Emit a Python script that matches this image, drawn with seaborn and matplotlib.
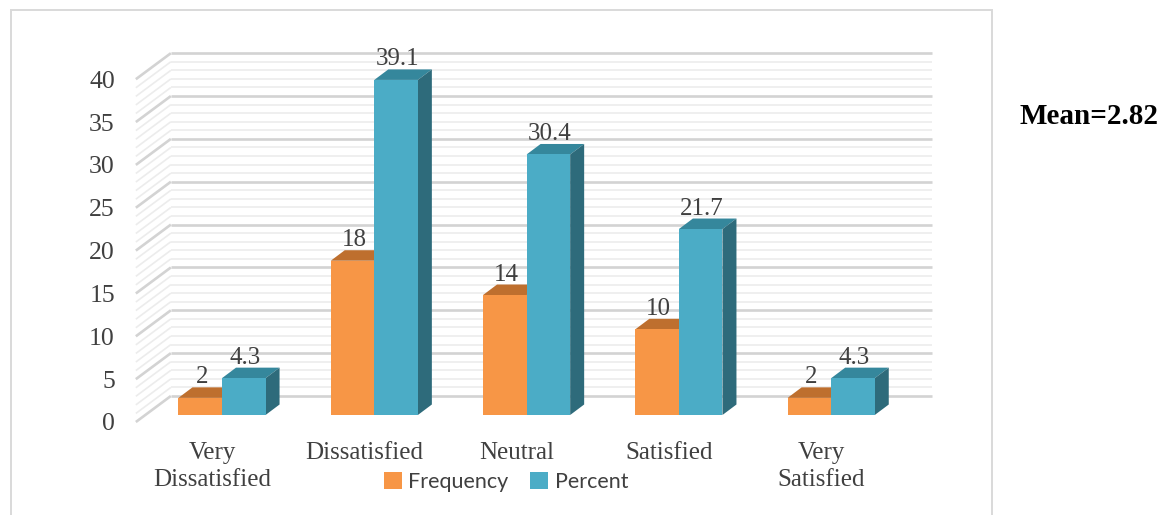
import numpy as np
import pandas as pd
import matplotlib
matplotlib.use("Agg")
import matplotlib.pyplot as plt
import seaborn as sns
from matplotlib.transforms import ScaledTranslation
from matplotlib.patches import Polygon, Rectangle, Patch

# ---------------- data ----------------
categories = ["Very\nDissatisfied", "Dissatisfied", "Neutral", "Satisfied", "Very\nSatisfied"]
frequency = [2, 18, 14, 10, 2]
percent = [4.3, 39.1, 30.4, 21.7, 4.3]
series_names = ["Frequency", "Percent"]
y_ticks = [0, 5, 10, 15, 20, 25, 30, 35, 40]
mean_text = "Mean=2.82"

# ---------------- style ----------------
sns.set_style("white")
plt.rcParams["font.family"] = ["Liberation Serif", "DejaVu Serif"]

ORANGE = "#F79646"
TEAL = "#4BACC6"
ORANGE_TOP = "#BE6F2E"
ORANGE_SIDE = "#A85F25"
TEAL_TOP = "#35879C"
TEAL_SIDE = "#2E6B7B"
TXT = "#404040"

W, H, DPI = 1163, 515, 100
fig = plt.figure(figsize=(W / DPI, H / DPI), dpi=DPI)
fig.patch.set_facecolor("white")

# axes mapped so that the bar front plane is the data plane
x0_px, spacing = 222.0, 152.3
left_px = x0_px - 0.5 * spacing
right_px = x0_px + 4.5 * spacing
ppu_y = 8.57
ymin, ymax = -3, 45
base_px = 415.0
bottom_img = base_px - ymin * ppu_y
top_img = base_px - ymax * ppu_y
ax = fig.add_axes([left_px / W, (H - bottom_img) / H,
                   (right_px - left_px) / W, (bottom_img - top_img) / H])

df = pd.DataFrame({
    "Satisfaction": categories * 2,
    "Value": frequency + percent,
    "Series": [series_names[0]] * len(categories) + [series_names[1]] * len(categories),
})
sns.barplot(data=df, x="Satisfaction", y="Value", hue="Series",
            palette=[ORANGE, TEAL], width=0.572, gap=0, saturation=1,
            linewidth=0, legend=False, ax=ax, zorder=3)
ax.set_xlim(-0.5, 4.5)
ax.set_ylim(ymin, ymax)
ax.set_axis_off()

sx = ax.transData.transform((1, 0))[0] - ax.transData.transform((0, 0))[0]
sy = ax.transData.transform((0, 1))[1] - ax.transData.transform((0, 0))[1]


def off(dx, dy):
    return ax.transData + ScaledTranslation(dx / DPI, dy / DPI, fig.dpi_scale_trans)


# depth geometry (pixels)
FX, FY = -10.0, -7.0     # chart front plane relative to bar front faces
BX, BY = 25.0, 19.0      # back wall relative to bar front faces
DX, DY = 14.0, 10.5      # bar depth

# ---------------- walls / gridlines ----------------
for v in np.arange(0, 41, 1):
    major = (v % 5 == 0)
    col = "#D3D3D3" if major else "#ECECEC"
    lw = 1.9 if major else 1.2
    # left wall diagonal
    xs = [-0.5 + FX / sx, -0.5 + BX / sx]
    ys = [v + FY / sy, v + BY / sy]
    ax.plot(xs, ys, color=col, lw=lw, zorder=1, solid_capstyle="butt", clip_on=False)
    # back wall
    ax.plot([-0.5 + BX / sx, 4.5 + BX / sx], [v + BY / sy, v + BY / sy],
            color=col, lw=lw, zorder=1, solid_capstyle="butt", clip_on=False)

# ---------------- 3D bar faces ----------------
dxd, dyd = DX / sx, DY / sy
shades = [(ORANGE_TOP, ORANGE_SIDE), (TEAL_TOP, TEAL_SIDE)]
for ci, cont in enumerate(ax.containers):
    top_c, side_c = shades[ci]
    for p in cont:
        x = p.get_x(); w = p.get_width(); h = p.get_height()
        top = Polygon([(x, h), (x + w, h), (x + w + dxd, h + dyd), (x + dxd, h + dyd)],
                      closed=True, facecolor=top_c, edgecolor="none", zorder=2, clip_on=False)
        side = Polygon([(x + w, 0), (x + w + dxd, dyd), (x + w + dxd, h + dyd), (x + w, h)],
                       closed=True, facecolor=side_c, edgecolor="none", zorder=2, clip_on=False)
        ax.add_patch(top)
        ax.add_patch(side)
        lab = f"{h:g}"
        ax.text(x + w / 2, h, lab, transform=off(1.5, DY + 4), ha="center",
                va="baseline", fontsize=18, color=TXT, zorder=5)

# ---------------- axis labels ----------------
for v in y_ticks:
    ax.text(-0.5, v, str(v), transform=off(-31, FY), ha="right",
            va="center_baseline", fontsize=18.5, color=TXT)

for i, c in enumerate(categories):
    ax.text(i, 0, c, transform=off(FX, -27), ha="center", va="top",
            fontsize=18, color=TXT, linespacing=1.3)

# ---------------- legend ----------------
handles = [Patch(facecolor=ORANGE, edgecolor="none"), Patch(facecolor=TEAL, edgecolor="none")]
fig.legend(handles, series_names, loc="center", bbox_to_anchor=(506 / W, 1 - 482 / H),
           ncol=2, frameon=False, prop={"family": "Lato", "size": 15.5},
           labelcolor=TXT, handlelength=0.85, handleheight=0.85,
           handletextpad=0.3, columnspacing=1.0, borderpad=0, borderaxespad=0)

# ---------------- mean text ----------------
fig.text(1019 / W, 1 - 117 / H, mean_text, ha="left", va="center",
         fontsize=21, fontweight="bold", color="black")

# ---------------- chart border ----------------
fig.patches.append(Rectangle((10.5 / W, -0.05), (992 - 10.5) / W, 1.05 - 9.5 / H,
                             transform=fig.transFigure, fill=False,
                             edgecolor="#D9D9D9", lw=1.4))

fig.savefig("out.png", dpi=DPI)
